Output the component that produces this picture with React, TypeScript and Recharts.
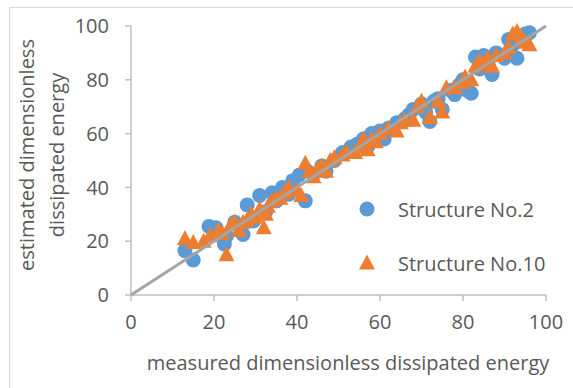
import { ScatterChart, Scatter, XAxis, YAxis, ZAxis } from "recharts";

// Structure No.2 (circles)
const measuredNo2 = [13, 15, 18.8, 20.5, 22.5, 23, 25, 27, 28, 29.5, 31, 32.5, 34, 35, 36.5, 38, 39, 40.5, 42, 42.5, 44, 46, 47, 49, 51, 53, 54.5, 56, 57, 58, 60, 61, 62, 64, 66, 67, 68, 70, 71, 72, 73, 74, 75, 77, 78, 79, 80, 81, 82, 83, 84, 85, 86, 87, 88, 90, 91, 92, 93, 94, 95, 96];
const estimatedNo2 = [16.5, 13, 25.5, 25, 19, 22, 27, 22.5, 33.5, 27.5, 37, 31, 38, 35, 40, 37.5, 42.5, 44.5, 35, 46, 45, 48, 46, 50, 53, 55, 56, 58, 55, 60, 61, 58, 62, 64, 65.5, 67, 69, 71, 68, 64.5, 72, 73, 69, 76, 74.5, 78, 80, 76, 75, 88.5, 84, 89, 86, 82, 90, 88, 95, 93, 88, 96, 97, 97.5];

// Structure No.10 (triangles)
const measuredNo10 = [13, 15, 17.5, 19, 21, 22, 23, 24, 25, 26, 27, 28, 29, 30, 31, 32, 32.5, 33, 34, 35, 36, 37, 38, 40, 41, 42, 43, 44, 45, 46, 47, 48, 49, 51, 52, 54, 55, 56, 57, 58, 59, 60, 62, 64, 65, 66, 68, 69, 70, 72, 74, 75, 76, 78, 80, 80.5, 82, 83, 84, 85, 86, 87, 88, 90, 91, 92, 93, 94, 95, 96];
const estimatedNo10 = [21, 19.5, 20, 22, 24, 23, 15, 26, 27, 24, 27, 28, 30, 29, 32, 25, 30, 33, 35, 36, 36, 38, 40, 39, 37, 49, 46, 44, 47, 48, 46, 50, 51, 52, 53, 53, 55, 58, 54, 58, 57, 60, 62, 61, 64, 65, 65, 70, 72, 66, 72, 68, 77, 77, 79, 81, 80, 85, 87, 86, 88, 85, 89, 90, 92, 97, 98, 96, 94, 93];

const axisTicks = [0, 20, 40, 60, 80, 100];
const diagonal = [0, 100];
const seriesNames = ["Structure No.2", "Structure No.10"];

const no2 = measuredNo2.map((x, i) => ({ x, y: estimatedNo2[i] }));
const no10 = measuredNo10.map((x, i) => ({ x, y: estimatedNo10[i] }));
const fitLine = diagonal.map((v) => ({ x: v, y: v }));

const BLUE = "#5b9bd5";
const ORANGE = "#ed7d31";
const TEXT = "#595959";
const AXIS = "#bfbfbf";
const FONT = "'Open Sans', sans-serif";
const FS = 20;

const Circle = (props: any) => <circle cx={props.cx} cy={props.cy} r={7.5} fill={BLUE} />;
const Triangle = (props: any) => (
  <polygon
    points={`${props.cx},${props.cy - 8.5} ${props.cx - 8},${props.cy + 6.5} ${props.cx + 8},${props.cy + 6.5}`}
    fill={ORANGE}
  />
);

const LegendBox = () => (
  <div
    style={{
      position: "absolute",
      left: 355,
      top: 182,
      fontFamily: FONT,
      fontSize: FS,
      color: TEXT,
      whiteSpace: "nowrap",
    }}
  >
    <div style={{ display: "flex", alignItems: "center", height: 54 }}>
      <svg width={24} height={20}>
        <circle cx={12} cy={10} r={7.5} fill={BLUE} />
      </svg>
      <span style={{ marginLeft: 19 }}>{seriesNames[0]}</span>
    </div>
    <div style={{ display: "flex", alignItems: "center", height: 54 }}>
      <svg width={24} height={20}>
        <polygon points="12,1.5 4,16.5 20,16.5" fill={ORANGE} />
      </svg>
      <span style={{ marginLeft: 19 }}>{seriesNames[1]}</span>
    </div>
  </div>
);

const YTitle = () => (
  <g>
    <text transform="translate(34,155) rotate(-90)" textAnchor="middle" fill={TEXT} fontSize={FS} fontFamily={FONT}>
      estimated dimensionless
    </text>
    <text transform="translate(64,155) rotate(-90)" textAnchor="middle" fill={TEXT} fontSize={FS} fontFamily={FONT}>
      dissipated energy
    </text>
  </g>
);

const XTitle = () => (
  <text x={348} y={370} textAnchor="middle" fill={TEXT} fontSize={FS} fontFamily={FONT}>
    measured dimensionless dissipated energy
  </text>
);

export default function App() {
  return (
    <div style={{ position: "absolute", left: 0, top: 0, width: 573, height: 388, background: "#fff", overflow: "hidden" }}>
      <div
        style={{
          position: "absolute",
          left: 9,
          top: 7,
          width: 580,
          height: 400,
          borderLeft: "1px solid #d9d9d9",
          borderTop: "1px solid #d9d9d9",
        }}
      />
      <ScatterChart width={573} height={388} margin={{ top: 26, right: 27, bottom: 33, left: 61 }}>
        <XAxis
          type="number"
          dataKey="x"
          domain={[0, 100]}
          ticks={axisTicks}
          height={60}
          tickSize={6}
          tickMargin={14}
          stroke={AXIS}
          strokeWidth={1.5}
          tick={{ fill: TEXT, fontSize: FS, fontFamily: FONT }}
          label={{ content: <XTitle /> }}
        />
        <YAxis
          type="number"
          dataKey="y"
          domain={[0, 100]}
          ticks={axisTicks}
          width={70}
          tickSize={6}
          tickMargin={16}
          stroke={AXIS}
          strokeWidth={1.5}
          tick={{ fill: TEXT, fontSize: FS, fontFamily: FONT }}
          label={{ content: <YTitle /> }}
        />
        <ZAxis range={[130, 130]} />
        <Scatter name={seriesNames[0]} data={no2} shape={<Circle />} isAnimationActive={false} />
        <Scatter name={seriesNames[1]} data={no10} shape={<Triangle />} isAnimationActive={false} />
        <Scatter
          data={fitLine}
          line={{ stroke: "#a5a5a5", strokeWidth: 3 }}
          shape={() => <g />}
          legendType="none"
          isAnimationActive={false}
        />
      </ScatterChart>
      <LegendBox />
    </div>
  );
}
